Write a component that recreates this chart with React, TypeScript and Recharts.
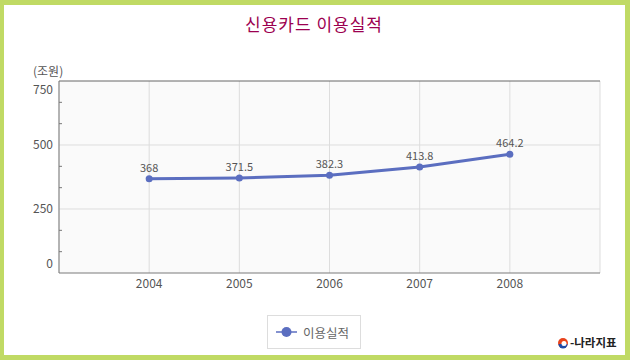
import React from 'react'
import {
  LineChart, Line, XAxis, YAxis, CartesianGrid, ReferenceLine, LabelList
} from 'recharts'

const years = [2004, 2005, 2006, 2007, 2008]
const usage = [368, 371.5, 382.3, 413.8, 464.2]
const yMajor = [0, 250, 500, 750]
const yTicks = [0, 83.33, 166.67, 250, 333.33, 416.67, 500, 583.33, 666.67, 750]
const gridValues = [250, 500]

const data = years.map((y, i) => ({ year: y, value: usage[i] }))

const font = "'Noto Sans CJK KR', 'DejaVu Sans', sans-serif"
const lineColor = '#5b6ec0'
const axisColor = '#7a7a7a'

function LeftTick(props: any) {
  const { x, y, payload } = props
  const v = payload.value
  const major = yMajor.includes(v)
  let ty = y
  if (v === 750) ty = y + 9
  if (v === 0) ty = y - 9
  return (
    <g>
      {!major && <line x1={x} x2={x + 3} y1={y} y2={y} stroke={axisColor} />}
      {major && (
        <text x={x - 6} y={ty} dy="0.35em" textAnchor="end" fontSize={12} fill="#555" fontFamily={font}>
          {v}
        </text>
      )}
    </g>
  )
}

function RightTick(props: any) {
  const { x, y, payload } = props
  const major = yMajor.includes(payload.value)
  if (payload.value === 0 || payload.value === 750) return <g />
  return <line x1={x - (major ? 6 : 3)} x2={x} y1={y} y2={y} stroke={axisColor} />
}

export default function App() {
  return (
    <div style={{ position: 'absolute', left: 0, top: 0, width: 630, height: 360, fontFamily: font }}>
      <div style={{
        position: 'absolute', left: 0, top: 0, width: 630, height: 360, boxSizing: 'border-box',
        borderStyle: 'solid', borderColor: '#c0da64', borderWidth: '5px 5px 5px 4px', background: '#fff'
      }} />
      <div style={{
        position: 'absolute', left: 0, top: 11, width: 628, textAlign: 'center',
        fontSize: 17, letterSpacing: 1, color: '#9c0050'
      }}>
        신용카드 이용실적
      </div>
      <div style={{ position: 'absolute', left: 33, top: 62, fontSize: 12, color: '#555' }}>(조원)</div>
      <div style={{ position: 'absolute', left: 0, top: 0 }}>
        <LineChart width={630} height={360} data={data} margin={{ top: 81, right: 30, bottom: 57, left: 0 }}>
          <CartesianGrid horizontal={false} stroke="#dddddd" fill="#fafafa" />
          {gridValues.map(v => (
            <ReferenceLine key={v} y={v} stroke="#dddddd" />
          ))}
          <ReferenceLine y={750} stroke="#666" />
          <XAxis
            dataKey="year"
            type="number"
            domain={[2003, 2009]}
            ticks={years}
            height={30}
            tickLine={false}
            tickSize={0}
            tickMargin={6}
            axisLine={{ stroke: axisColor }}
            tick={{ fontSize: 12, fill: '#555', fontFamily: font }}
          />
          <YAxis
            domain={[0, 750]}
            ticks={yTicks}
            width={59}
            tickLine={false}
            tickSize={0}
            tickMargin={0}
            axisLine={{ stroke: axisColor }}
            tick={<LeftTick />}
            interval={0}
          />
          <YAxis
            yAxisId="r"
            orientation="right"
            domain={[0, 750]}
            ticks={yTicks}
            width={0}
            tickLine={false}
            tickSize={0}
            tickMargin={0}
            axisLine={{ stroke: axisColor }}
            tick={<RightTick />}
            interval={0}
          />
          <Line
            dataKey="value"
            stroke={lineColor}
            strokeWidth={3}
            dot={{ r: 3.5, fill: lineColor, stroke: lineColor, strokeWidth: 0 }}
            isAnimationActive={false}
          >
            <LabelList dataKey="value" position="top" offset={7} fontSize={11} fill="#555" fontFamily={font} />
          </Line>
        </LineChart>
      </div>
      <div style={{
        position: 'absolute', left: 267, top: 315, width: 94, height: 34, boxSizing: 'border-box',
        border: '1px solid #dddddd', background: '#fff'
      }}>
        <svg width={24} height={32} style={{ position: 'absolute', left: 7, top: 0 }}>
          <line x1={1} x2={22} y1={16} y2={16} stroke={lineColor} strokeWidth={1.5} />
          <circle cx={11.5} cy={16} r={5} fill={lineColor} />
        </svg>
        <span style={{ position: 'absolute', left: 35, top: 7, fontSize: 12.5, color: '#666' }}>이용실적</span>
      </div>
      <div style={{ position: 'absolute', left: 557, top: 334, height: 16 }}>
        <svg width={12} height={12} style={{ position: 'absolute', left: 0, top: 3 }}>
          <circle cx={6} cy={6} r={5} fill="#e8431c" />
          <path d="M 1.5 7 A 4.5 4.5 0 0 0 10.5 7 Z" fill="#1d4aa8" />
          <circle cx={7} cy={6.5} r={2.5} fill="#fff" />
        </svg>
        <span style={{ position: 'absolute', left: 13, top: 0, fontSize: 11.5, fontWeight: 'bold', color: '#222', whiteSpace: 'nowrap' }}>
          -나라지표
        </span>
      </div>
    </div>
  )
}
